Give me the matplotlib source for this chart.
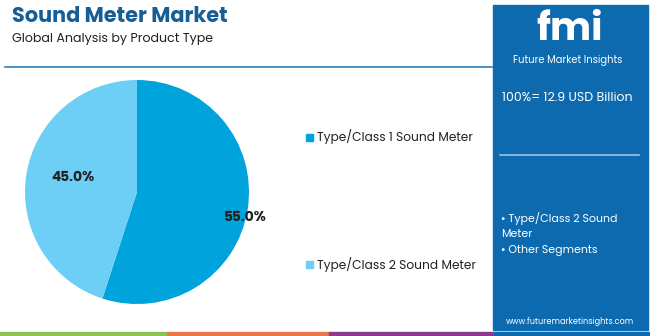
import matplotlib
matplotlib.use("Agg")
import matplotlib.pyplot as plt
from matplotlib.patches import Rectangle

categories = ["Type/Class 1 Sound Meter", "Type/Class 2 Sound Meter"]
values = [55.0, 45.0]
colors = ["#00A3DC", "#6DCFF6"]
title = "Sound Meter Market"
subtitle = "Global Analysis by Product Type"
total_text = "100%= 12.9 USD Billion"
other_items = ["• Type/Class 2 Sound\nMeter", "• Other Segments"]
url = "www.futuremarketinsights.com"

plt.rcParams['font.family'] = ['Poppins', 'Open Sans', 'DejaVu Sans']

fig = plt.figure(figsize=(6.5, 3.36), dpi=100)
ax = fig.add_axes([0, 0, 1, 1])
H = 336

def Y(y):
    return H - y

wedges, _ = ax.pie(values, colors=colors, startangle=90, counterclock=False,
                   center=(137, Y(192)), radius=112)
ax.set_xlim(0, 650)
ax.set_ylim(0, 336)
ax.set_aspect('auto')
ax.axis('off')

# pie labels
ax.text(73, Y(178), f"{values[1]:.1f}%", fontsize=10, fontweight='bold', color='#222222',
        ha='center', va='center')
ax.text(245, Y(218), f"{values[0]:.1f}%", fontsize=10, fontweight='bold', color='#222222',
        ha='center', va='center')

# title
ax.text(12, Y(17), title, fontsize=15, fontweight='bold', color='#165E96', ha='left', va='center')
ax.text(12, Y(39), subtitle, fontsize=9.1, color='#222222', ha='left', va='center')
ax.plot([5, 492], [Y(67), Y(67)], color='#2E7DB8', lw=1.2)

# legend
leg_y = [137, 264]
for c, lab, yy in zip(colors, categories, leg_y):
    ax.add_patch(Rectangle((306, Y(yy) - 3.5), 7, 7, color=c))
    ax.text(317, Y(yy), lab, fontsize=8.8, color='#222222', ha='left', va='center')

# right panel
ax.add_patch(Rectangle((493, Y(330)), 155, 325, color='#0D6AAE'))
ax.text(570, Y(30), "fmi", fontsize=28, fontweight='bold', color='white', ha='center', va='center')
ax.text(568, Y(60), "Future Market Insights", fontsize=7.2, color='white', ha='center', va='center')
ax.text(502, Y(98), total_text, fontsize=9, color='white', ha='left', va='center')
ax.plot([500, 639], [Y(155), Y(155)], color='#9CC3E2', lw=1.2)
ax.text(501, Y(226), other_items[0], fontsize=7.9, color='white', ha='left', va='center',
        linespacing=1.45)
ax.text(501, Y(251), other_items[1], fontsize=7.9, color='white', ha='left', va='center')
ax.text(570, Y(321), url, fontsize=5.9, color='white', ha='center', va='center')

# bottom strip
strip = [(0, 167, '#8DC153'), (167, 329, '#E8784A'), (329, 494, '#8C3A8E'), (494, 650, '#0D6AAE')]
for x0, x1, c in strip:
    ax.add_patch(Rectangle((x0, 0), x1 - x0, 4, color=c))

fig.savefig("out.png", dpi=100)
